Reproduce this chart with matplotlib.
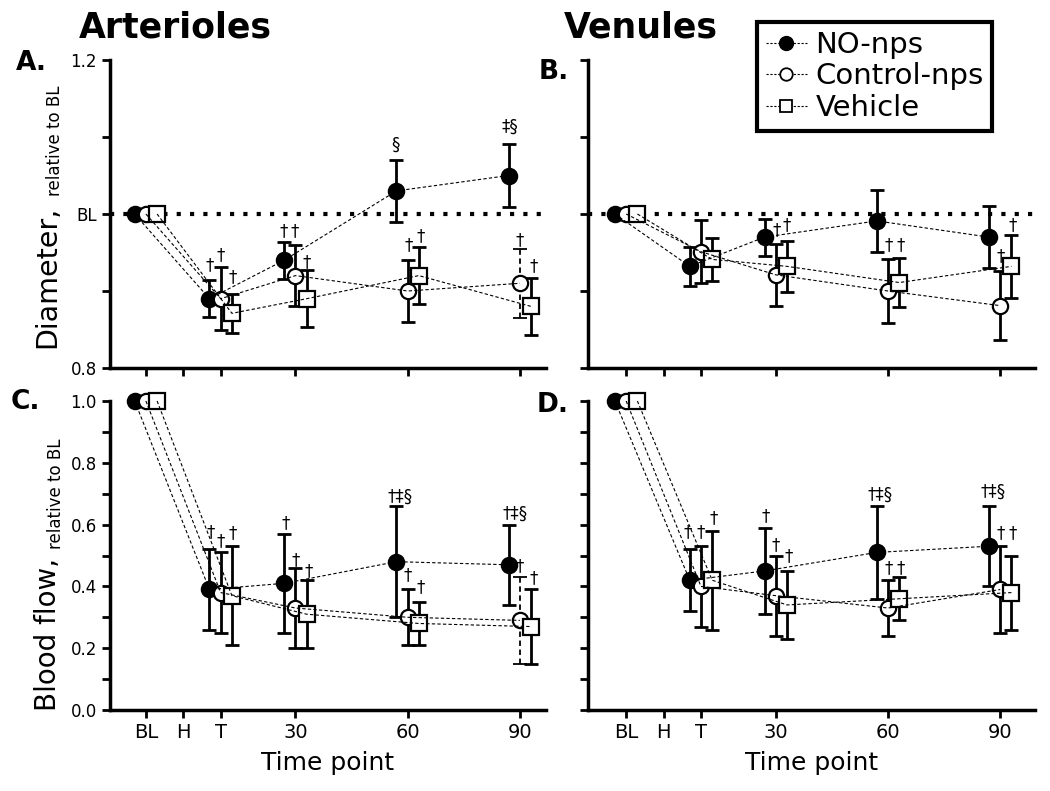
import numpy as np
import matplotlib
matplotlib.use('Agg')
from matplotlib import pyplot as plt
from matplotlib.lines import Line2D

# Eixo x: BL, H, T, 30, 60, 90 (posicao em unidades de "10 min")
tick_pos = [0, 10, 20, 40, 70, 100]
tick_nomes = ['BL', 'H', 'T', '30', '60', '90']
tempos = [0, 20, 40, 70, 100]  # BL, T, 30, 60, 90 (nao tem medida em H)
grupos = ['NO-nps', 'Control-nps', 'Vehicle']

# A. Diametro - arteriolas
art_diam_no = [1.0, 0.890, 0.940, 1.030, 1.050]
art_diam_no_err = [0, 0.024, 0.024, 0.040, 0.041]
art_diam_ctrl = [1.0, 0.890, 0.920, 0.900, 0.910]
art_diam_ctrl_err = [0, 0.041, 0.040, 0.040, 0.045]
art_diam_veh = [1.0, 0.871, 0.890, 0.920, 0.880]
art_diam_veh_err = [0, 0.025, 0.037, 0.037, 0.037]

# B. Diametro - venulas
ven_diam_no = [1.0, 0.932, 0.970, 0.991, 0.970]
ven_diam_no_err = [0, 0.025, 0.024, 0.040, 0.040]
ven_diam_ctrl = [1.0, 0.951, 0.921, 0.900, 0.881]
ven_diam_ctrl_err = [0, 0.041, 0.040, 0.041, 0.045]
ven_diam_veh = [1.0, 0.941, 0.932, 0.911, 0.932]
ven_diam_veh_err = [0, 0.028, 0.033, 0.032, 0.041]

# C. Fluxo - arteriolas
art_flux_no = [1.0, 0.39, 0.41, 0.48, 0.47]
art_flux_no_err = [0, 0.13, 0.16, 0.18, 0.13]
art_flux_ctrl = [1.0, 0.38, 0.33, 0.30, 0.29]
art_flux_ctrl_err = [0, 0.13, 0.13, 0.09, 0.14]
art_flux_veh = [1.0, 0.37, 0.31, 0.28, 0.27]
art_flux_veh_err = [0, 0.16, 0.11, 0.07, 0.12]

# D. Fluxo - venulas
ven_flux_no = [1.0, 0.42, 0.45, 0.51, 0.53]
ven_flux_no_err = [0, 0.10, 0.14, 0.15, 0.13]
ven_flux_ctrl = [1.0, 0.40, 0.37, 0.33, 0.39]
ven_flux_ctrl_err = [0, 0.13, 0.13, 0.09, 0.14]
ven_flux_veh = [1.0, 0.42, 0.34, 0.36, 0.38]
ven_flux_veh_err = [0, 0.16, 0.11, 0.07, 0.12]

# simbolos de significancia (x, y, texto)
art_diam_sig = [(17, 0.934, '†'), (20, 0.947, '†'), (23.3, 0.918, '†'),
                (36.8, 0.978, '†'), (39.7, 0.978, '†'), (43, 0.938, '†'),
                (66.8, 1.090, '§'), (70.3, 0.959, '†'), (73.4, 0.971, '†'),
                (97.3, 1.113, '‡§'), (100, 0.966, '†'), (103.6, 0.932, '†')]
ven_diam_sig = [(40.3, 0.979, '†'), (43, 0.986, '†'),
                (70.1, 0.959, '†'), (73.4, 0.959, '†'),
                (100, 0.945, '†'), (103.3, 0.986, '†')]
art_flux_sig = [(17.2, 0.574, '†'), (20, 0.548, '†'), (23.1, 0.572, '†'),
                (37.3, 0.606, '†'), (40, 0.485, '†'), (43.5, 0.45, '†'),
                (68.1, 0.69, '†‡§'), (70.1, 0.437, '†'), (73.6, 0.396, '†'),
                (98.8, 0.634, '†‡§'), (100, 0.464, '†'), (103.7, 0.426, '†')]
ven_flux_sig = [(16.4, 0.574, '†'), (19.8, 0.577, '†'), (23.5, 0.62, '†'),
                (37.2, 0.626, '†'), (40.1, 0.534, '†'), (43.4, 0.498, '†'),
                (67.9, 0.696, '†‡§'), (70.1, 0.459, '†'), (73.3, 0.459, '†'),
                (98, 0.706, '†‡§'), (100.2, 0.572, '†'), (103.3, 0.572, '†')]

W, H = 1050, 791
fig = plt.figure(figsize=(W / 100, H / 100), dpi=100)


def caixa(x0, x1, y0, y1):
    # pixels da imagem -> fracao da figura
    return [x0 / W, 1 - y1 / H, (x1 - x0) / W, (y1 - y0) / H]


desloc = [-3, 0, 3]
marcas = [dict(marker='o', mfc='black'), dict(marker='o', mfc='white'), dict(marker='s', mfc='white')]


def painel(ax, series, erros, sig, xlim, ylim, yticks, ylabels, tracejado=None, linha_bl=False):
    for k in range(3):
        x = np.array(tempos) + desloc[k]
        y = np.array(series[k])
        e = np.array(erros[k])
        ok = np.ones(len(x), bool)
        if tracejado is not None and tracejado[0] == k:
            ok[tracejado[1]] = False
            eb = ax.errorbar(x[~ok], y[~ok], yerr=e[~ok], fmt='none', ecolor='black',
                             elinewidth=1.3, capsize=5, capthick=1.3, zorder=2)
            eb[2][0].set_linestyle((0, (3, 2)))
        ax.errorbar(x[ok], y[ok], yerr=e[ok], fmt='none', ecolor='black',
                    elinewidth=2, capsize=5, capthick=2, zorder=2)
        ax.plot(x, y, ls='none', ms=11, mec='black', mew=1.6, zorder=3, clip_on=False, **marcas[k])
        ax.plot(x, y, ls=(0, (3, 2)), lw=0.8, color='black', zorder=4, clip_on=False)
    if linha_bl:
        ax.axhline(1.0, color='black', lw=3, ls=(0, (1, 2.2)), zorder=1)
    for (xs, ys, t) in sig:
        ax.text(xs, ys, t, ha='center', va='center', fontsize=12)
    ax.set_xlim(xlim)
    ax.set_ylim(ylim)
    ax.set_xticks(tick_pos)
    ax.set_yticks(yticks)
    ax.set_yticklabels(ylabels, fontsize=12)
    for lado in ['top', 'right']:
        ax.spines[lado].set_visible(False)
    for lado in ['left', 'bottom']:
        ax.spines[lado].set_linewidth(2.5)
    ax.tick_params(direction='out', length=6, width=2)


axA = fig.add_axes(caixa(110, 546, 60, 368))
axB = fig.add_axes(caixa(588, 1035, 60, 368))
axC = fig.add_axes(caixa(110, 546, 401, 710))
axD = fig.add_axes(caixa(588, 1035, 401, 710))

xlim_esq = (-9.6, 107)
xlim_dir = (-10.2, 109.3)
yt_diam = [0.8, 0.9, 1.0, 1.1, 1.2]
yt_flux = [0.0, 0.1, 0.2, 0.3, 0.4, 0.5, 0.6, 0.7, 0.8, 0.9, 1.0]
lab_flux = ['0.0', '', '0.2', '', '0.4', '', '0.6', '', '0.8', '', '1.0']

painel(axA, [art_diam_no, art_diam_ctrl, art_diam_veh],
       [art_diam_no_err, art_diam_ctrl_err, art_diam_veh_err], art_diam_sig,
       xlim_esq, (0.8, 1.2), yt_diam, ['0.8', '', 'BL', '', '1.2'], tracejado=(1, 4), linha_bl=True)
painel(axB, [ven_diam_no, ven_diam_ctrl, ven_diam_veh],
       [ven_diam_no_err, ven_diam_ctrl_err, ven_diam_veh_err], ven_diam_sig,
       xlim_dir, (0.8, 1.2), yt_diam, [''] * 5, linha_bl=True)
painel(axC, [art_flux_no, art_flux_ctrl, art_flux_veh],
       [art_flux_no_err, art_flux_ctrl_err, art_flux_veh_err], art_flux_sig,
       xlim_esq, (0.0, 1.0), yt_flux, lab_flux, tracejado=(1, 4))
painel(axD, [ven_flux_no, ven_flux_ctrl, ven_flux_veh],
       [ven_flux_no_err, ven_flux_ctrl_err, ven_flux_veh_err], ven_flux_sig,
       xlim_dir, (0.0, 1.0), yt_flux, [''] * 11)

for ax in [axA, axB]:
    ax.set_xticklabels([])
for ax in [axC, axD]:
    ax.set_xticklabels(tick_nomes, fontsize=14)
    ax.set_xlabel('Time point', fontsize=18, labelpad=6)

# titulos e letras dos paineis
fig.text(175 / W, 1 - 27 / H, 'Arterioles', fontsize=25, weight='bold', ha='center', va='center')
fig.text(641 / W, 1 - 27 / H, 'Venules', fontsize=25, weight='bold', ha='center', va='center')
fig.text(31 / W, 1 - 63 / H, 'A.', fontsize=19, weight='bold', ha='center', va='center')
fig.text(554 / W, 1 - 72 / H, 'B.', fontsize=19, weight='bold', ha='center', va='center')
fig.text(25 / W, 1 - 402 / H, 'C.', fontsize=19, weight='bold', ha='center', va='center')
fig.text(553 / W, 1 - 405 / H, 'D.', fontsize=19, weight='bold', ha='center', va='center')

# rotulos do eixo y (parte grande + parte pequena logo acima)
fig.text(47 / W, 1 - 206 / H, 'Diameter,', fontsize=20.5, rotation=90, ha='center', va='top')
fig.text(55 / W, 1 - 196 / H, 'relative to BL', fontsize=12, rotation=90, ha='center', va='bottom')
fig.text(48 / W, 1 - 558 / H, 'Blood flow,', fontsize=20, rotation=90, ha='center', va='top')
fig.text(56 / W, 1 - 549 / H, 'relative to BL', fontsize=12, rotation=90, ha='center', va='bottom')

# legenda
handles = [Line2D([], [], color='black', ls=(0, (2, 1.5)), lw=0.8, marker='o', mfc='black', mec='black', ms=10),
           Line2D([], [], color='black', ls=(0, (2, 1.5)), lw=0.8, marker='o', mfc='white', mec='black', ms=9, mew=1.3),
           Line2D([], [], color='black', ls=(0, (2, 1.5)), lw=0.8, marker='s', mfc='white', mec='black', ms=9, mew=1.3)]
leg = fig.legend(handles, grupos, loc='upper left', bbox_to_anchor=(757 / W, 1 - 22 / H),
                 fontsize=21, frameon=True, fancybox=False, framealpha=1, handlelength=1.4, handletextpad=0.3,
                 labelspacing=0.12, borderpad=0.3, borderaxespad=0)
leg.get_frame().set_edgecolor('black')
leg.get_frame().set_linewidth(3)

fig.savefig('out.png', dpi=100)
